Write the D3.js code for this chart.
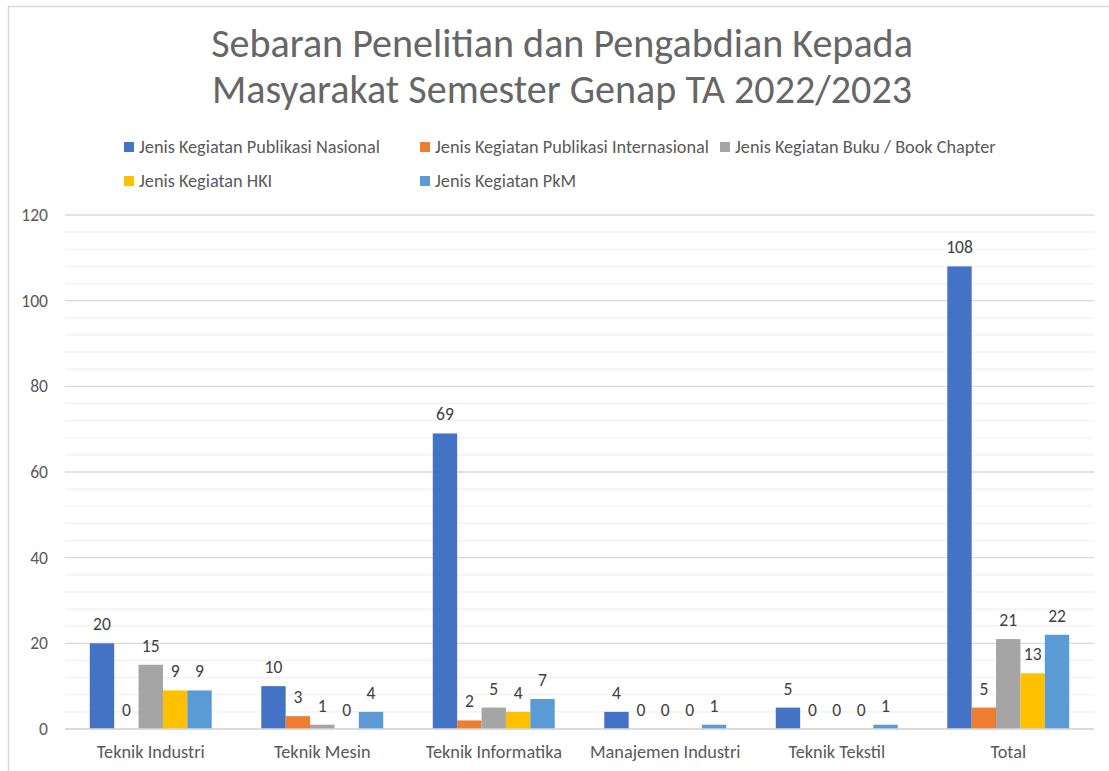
<!DOCTYPE html>
<html>
<head>
<meta charset="utf-8">
<script src="https://cdn.jsdelivr.net/npm/d3@7"></script>
<style>
  body { margin: 0; background: #fff; }
  svg text { font-family: Carlito, Calibri, "Open Sans", sans-serif; }
</style>
</head>
<body>
<svg id="chart" width="1109" height="771"></svg>
<script>
const categories = ["Teknik Industri", "Teknik Mesin", "Teknik Informatika", "Manajemen Industri", "Teknik Tekstil", "Total"];
const seriesNames = [
  "Jenis Kegiatan Publikasi Nasional",
  "Jenis Kegiatan Publikasi Internasional",
  "Jenis Kegiatan Buku / Book Chapter",
  "Jenis Kegiatan HKI",
  "Jenis Kegiatan PkM"
];
const publikasiNasional = [20, 10, 69, 4, 5, 108];
const publikasiInternasional = [0, 3, 2, 0, 0, 5];
const bukuBookChapter = [15, 1, 5, 0, 0, 21];
const hki = [9, 0, 4, 0, 0, 13];
const pkm = [9, 4, 7, 1, 1, 22];
const yTicks = [0, 20, 40, 60, 80, 100, 120];
const colors = ["#4472C4", "#ED7D31", "#A5A5A5", "#FFC000", "#5B9BD5"];

const seriesValues = [publikasiNasional, publikasiInternasional, bukuBookChapter, hki, pkm];

const svg = d3.select("#chart");

// pick a font size so a sample string gets the width it has in the original (Calibri) chart
function fitSize(sample, target) {
  const t = svg.append("text").style("font-size", "100px").text(sample);
  const w = t.node().getComputedTextLength();
  t.remove();
  return 100 * target / w;
}
const titleSize = fitSize("Sebaran Penelitian dan Pengabdian Kepada", 702);
const legendSize = fitSize(seriesNames[0], 241);
const catSize = fitSize("Teknik Industri", 108);
const numSize = fitSize("120", 26.7);

// frame of the chart (only top and left edges visible)
svg.append("line").attr("x1", 8).attr("x2", 1109).attr("y1", 6.5).attr("y2", 6.5)
  .attr("stroke", "#d9d9d9").attr("stroke-width", 1.5);
svg.append("line").attr("x1", 8.5).attr("x2", 8.5).attr("y1", 6).attr("y2", 771)
  .attr("stroke", "#d9d9d9").attr("stroke-width", 1.5);

// title (original uses a light weight, so a lighter grey here)
const title = svg.append("text").attr("text-anchor", "middle").attr("fill", "#666666")
  .style("font-size", titleSize + "px").style("font-weight", 300);
title.append("tspan").attr("x", 562).attr("y", 57).text("Sebaran Penelitian dan Pengabdian Kepada");
title.append("tspan").attr("x", 562).attr("y", 103).text("Masyarakat Semester Genap TA 2022/2023");

// legend
const legendPos = [[124, 147], [420, 147], [720, 147], [124, 181], [420, 181]];
const legend = svg.append("g");
seriesNames.forEach((name, i) => {
  const [lx, ly] = legendPos[i];
  legend.append("rect").attr("x", lx).attr("y", ly - 5).attr("width", 10).attr("height", 10)
    .attr("fill", colors[i]);
  legend.append("text").attr("x", lx + 15).attr("y", ly + 5.5).attr("fill", "#595959")
    .style("font-size", legendSize + "px").text(name);
});

// scales
const x0 = d3.scaleBand().domain(categories).range([65, 1094]).paddingInner(0.289).paddingOuter(0.1445);
const x1 = d3.scaleBand().domain(d3.range(seriesNames.length)).range([0, x0.bandwidth()]);
const y = d3.scaleLinear().domain([0, 120]).range([729, 215]);

// gridlines
const grid = svg.append("g");
grid.selectAll("line.minor").data(d3.range(0, 121, 4).filter(v => v % 20 !== 0)).join("line")
  .attr("class", "minor")
  .attr("x1", 65).attr("x2", 1094).attr("y1", d => y(d)).attr("y2", d => y(d))
  .attr("stroke", "#f0f0f0").attr("stroke-width", 1.2);
grid.selectAll("line.major").data(yTicks).join("line")
  .attr("class", "major")
  .attr("x1", 65).attr("x2", 1094).attr("y1", d => y(d)).attr("y2", d => y(d))
  .attr("stroke", "#d9d9d9").attr("stroke-width", 1.3);

// y axis labels
const yAxis = svg.append("g").attr("transform", "translate(48,0)")
  .call(d3.axisLeft(y).tickValues(yTicks).tickSize(0).tickPadding(0));
yAxis.select(".domain").remove();
yAxis.selectAll("text").attr("fill", "#595959").style("font-size", numSize + "px");

// bars
const groups = svg.append("g").selectAll("g").data(categories).join("g")
  .attr("transform", d => `translate(${x0(d)},0)`);

groups.each(function(cat, ci) {
  const g = d3.select(this);
  seriesValues.forEach((vals, si) => {
    const v = vals[ci];
    g.append("rect")
      .attr("x", x1(si))
      .attr("y", y(v))
      .attr("width", x1.bandwidth())
      .attr("height", y(0) - y(v))
      .attr("fill", colors[si]);
    g.append("text")
      .attr("x", x1(si) + x1.bandwidth() / 2)
      .attr("y", y(v) - 13)
      .attr("text-anchor", "middle")
      .attr("fill", "#404040")
      .style("font-size", numSize + "px")
      .text(v);
  });
});

// baseline
svg.append("line").attr("x1", 65).attr("x2", 1094).attr("y1", y(0)).attr("y2", y(0))
  .attr("stroke", "#d9d9d9").attr("stroke-width", 1.3);

// x axis labels
const xAxis = svg.append("g").attr("transform", `translate(0,${y(0)})`)
  .call(d3.axisBottom(x0).tickSize(0).tickPadding(0));
xAxis.select(".domain").remove();
xAxis.selectAll("text").attr("fill", "#595959").attr("dy", null).attr("y", 29)
  .style("font-size", catSize + "px");
</script>
</body>
</html>
